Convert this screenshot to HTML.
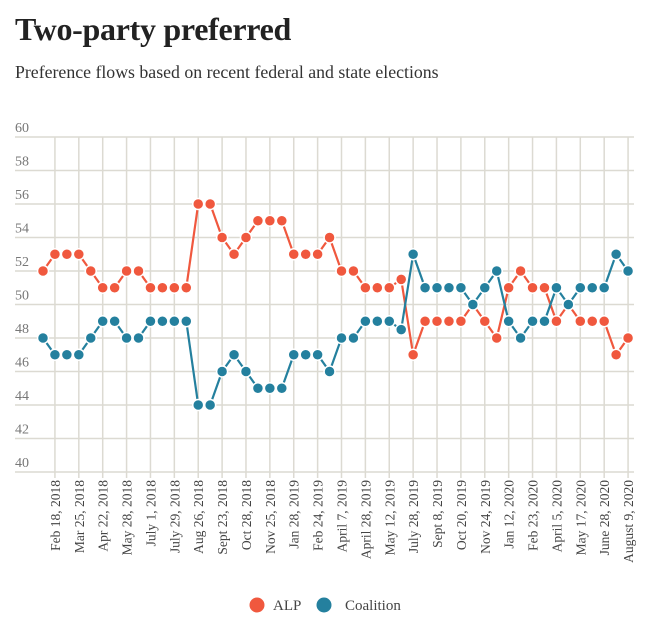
<!DOCTYPE html>
<html><head><meta charset="utf-8">
<style>
body{margin:0;background:#fff;width:660px;height:623px;overflow:hidden;font-family:"Liberation Serif",serif;}
h1{position:absolute;left:15px;top:11px;margin:0;font-size:32px;font-weight:bold;color:#222;letter-spacing:-0.3px}
.sub{position:absolute;left:15px;top:62px;font-size:17.8px;color:#333}
svg{position:absolute;left:0;top:0}
</style></head><body>
<h1>Two-party preferred</h1>
<div class="sub">Preference flows based on recent federal and state elections</div>
<svg id="chart" width="660" height="623"></svg>
<script>
const tickLabels=["Feb 18, 2018","Mar 25, 2018","Apr 22, 2018","May 28, 2018","July 1, 2018","July 29, 2018","Aug 26, 2018","Sept 23, 2018","Oct 28, 2018","Nov 25, 2018","Jan 28, 2019","Feb 24, 2019","April 7, 2019","April 28, 2019","May 12, 2019","July 28, 2019","Sept 8, 2019","Oct 20, 2019","Nov 24, 2019","Jan 12, 2020","Feb 23, 2020","April 5, 2020","May 17, 2020","June 28, 2020","August 9, 2020"];
const alp=[52,53,53,53,52,51,51,52,52,51,51,51,51,56,56,54,53,54,55,55,55,53,53,53,54,52,52,51,51,51,51.5,47,49,49,49,49,50,49,48,51,52,51,51,49,50,49,49,49,47,48];
const coalition=[48,47,47,47,48,49,49,48,48,49,49,49,49,44,44,46,47,46,45,45,45,47,47,47,46,48,48,49,49,49,48.5,53,51,51,51,51,50,51,52,49,48,49,49,51,50,51,51,51,53,52];
const yTicks=[40,42,44,46,48,50,52,54,56,58,60];
const NS="http://www.w3.org/2000/svg";
const svg=document.getElementById('chart');
const x0=43,dx=11.94;
const X=i=>x0+dx*i;
const Y=v=>472-(v-40)*16.75;
function mk(t,a){const e=document.createElementNS(NS,t);for(const k in a)e.setAttribute(k,a[k]);svg.appendChild(e);return e;}
yTicks.forEach(v=>{
  const l=mk('line',{x1:15,x2:634,y1:Y(v),y2:Y(v),stroke:'#dcdad2','stroke-width':1.5});
  
  
  const t=mk('text',{x:15,y:Y(v)-5,'font-size':14,fill:'#777','font-family':'Liberation Serif, serif'});
  t.textContent=v;
  
  
});
tickLabels.forEach((lab,k)=>{
  const i=2*k+1,x=X(i);
  const g=mk('line',{x1:x,x2:x,y1:Y(60),y2:Y(40)+6,stroke:'#dcdad2','stroke-width':1.5});
  
  
  const t=mk('text',{x:0,y:0,'font-size':13.5,fill:'#444','text-anchor':'end','font-family':'Liberation Serif, serif',transform:`translate(${x+5},${Y(40)+8}) rotate(-90)`});
  t.textContent=lab;
  
  
});
function series(vals,color,name){
  const p=mk('polyline',{points:vals.map((v,i)=>X(i)+','+Y(v)).join(' '),fill:'none',stroke:color,'stroke-width':2.2});
  
  
  vals.forEach((v,i)=>{
    const c=mk('circle',{cx:X(i),cy:Y(v),r:5.5,fill:color,stroke:'#fff','stroke-width':1.5});
    
    
  });
}
series(alp,'#f0583e','alp');
series(coalition,'#24809e','coalition');
[['#f0583e','ALP',257,273],['#24809e','Coalition',324,345]].forEach(([c,t,cx,tx])=>{
  const ci=mk('circle',{cx:cx,cy:605,r:7.5,fill:c});
  
  
  const te=mk('text',{x:tx,y:610,'font-size':15,fill:'#444','font-family':'Liberation Serif, serif'});
  te.textContent=t;
  
  
});
</script>
</body></html>
